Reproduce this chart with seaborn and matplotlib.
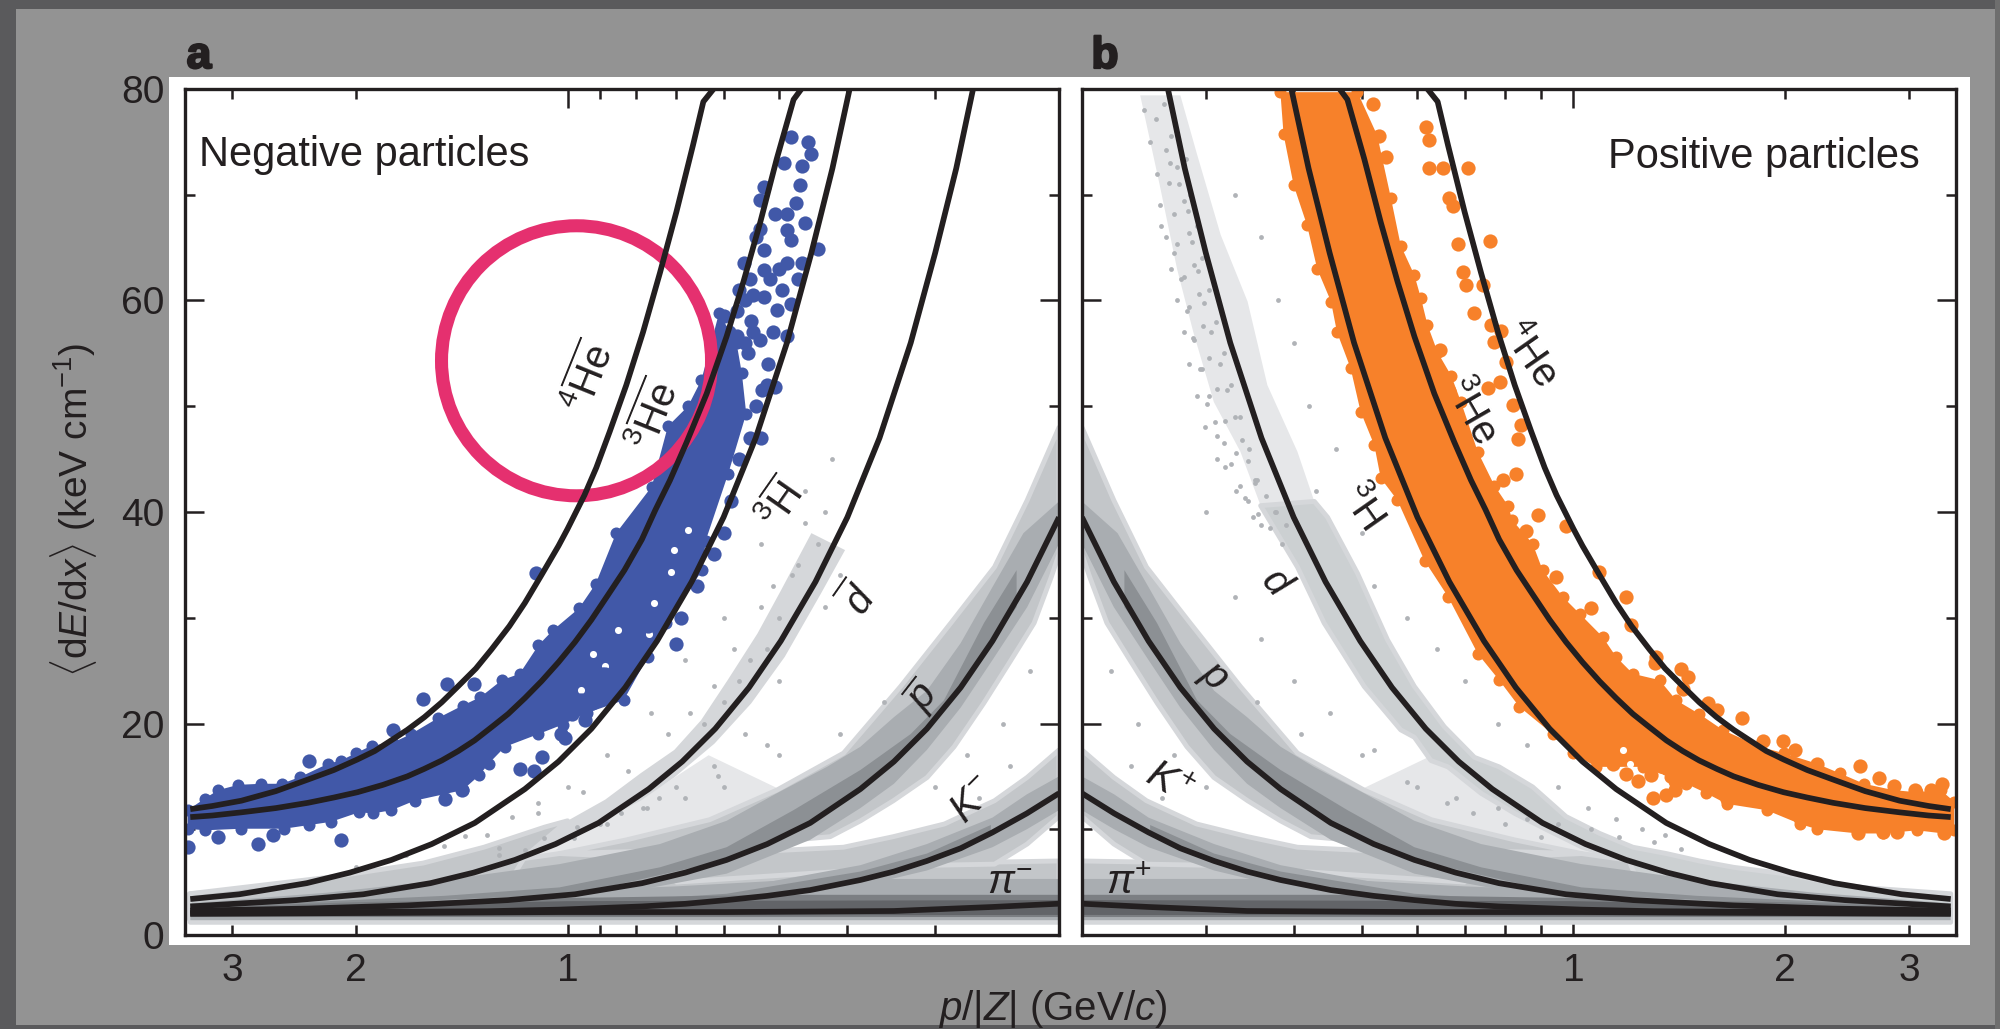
import matplotlib
matplotlib.use("Agg")
from matplotlib import pyplot as plt
from matplotlib import patheffects as pe
from matplotlib.patches import Rectangle
from matplotlib.ticker import FixedLocator, FixedFormatter
import pandas as pd
import seaborn as sns

# curves, p/|Z| (GeV/c) against <dE/dx> (keV/cm)
he4_p = [.62, .641, .663, .70, .739, .781, .825, .871, .91, .946, 1.0, 1.03, 1.09, 1.15, 1.21, 1.283, 1.35, 1.432, 1.51, 1.598, 1.69, 1.782, 1.88, 1.99, 2.15, 2.34, 2.6, 2.91, 3.2, 3.44]
he4_y = [80, 78.8, 74.7, 68.4, 62.6, 57, 52, 47.6, 44.2, 41.6, 38.4, 36.8, 34, 31.4, 29.2, 27, 25.2, 23.5, 22, 20.6, 19.4, 18.4, 17.4, 16.6, 15.6, 14.7, 13.6, 12.7, 12.2, 11.9]
he3_p = [.465, .477, .504, .532, .562, .594, .634, .677, .715, .75, .784, .83, .875, .925, .976, 1.03, 1.089, 1.15, 1.215, 1.28, 1.356, 1.43, 1.51, 1.6, 1.69, 1.83, 1.99, 2.15, 2.34, 2.6, 2.91, 3.2, 3.44]
he3_y = [80, 79, 73.4, 67.4, 61.8, 56.6, 51.2, 46.6, 43, 40.2, 37.4, 34.5, 32.2, 29.8, 27.7, 25.8, 24, 22.4, 20.9, 19.7, 18.4, 17.4, 16.5, 15.7, 15, 14.2, 13.5, 13, 12.5, 12, 11.6, 11.3, 11.15]
h3_p = [.397, .42, .45, .4875, .54, .6, .666, .746, .828, .925, 1.03, 1.15, 1.355, 1.56, 1.78, 2.04, 2.35, 2.93, 3.44]
h3_y = [80, 72.5, 64.5, 56, 47, 39.5, 33.4, 27.8, 23.4, 19.5, 16.4, 13.8, 10.6, 8.6, 7.1, 5.9, 4.9, 3.85, 3.4]
d_p = [.265, .28, .30, .325, .36, .4, .444, .4974, .552, .6166, .6868, .7666, .9034, 1.04, 1.188, 1.36, 1.567, 1.952, 2.43, 3.44]
d_y = [80, 72.5, 64.5, 56, 47, 39.5, 33.4, 27.8, 23.4, 19.5, 16.4, 13.8, 10.6, 8.6, 7.1, 5.9, 4.9, 3.85, 3.3, 2.7]
pr_p = [.2, .222, .2487, .276, .3083, .3434, .3833, .4517, .52, .594, .68, .7835, .976, 1.215, 1.69, 2.34, 3.44]
pr_y = [39.5, 33.4, 27.8, 23.4, 19.5, 16.4, 13.8, 10.6, 8.6, 7.1, 5.9, 4.9, 3.85, 3.3, 2.8, 2.5, 2.3]
ka_p = [.2, .2222, .2487, .276, .3083, .3434, .3833, .4517, .52, .594, .68, .7835, 1.027, 1.3, 1.69, 3.44]
ka_y = [13.4, 11.5, 9.7, 8.2, 7, 6, 5.2, 4.25, 3.7, 3.3, 2.95, 2.7, 2.4, 2.25, 2.2, 2.1]
pi_p = [.2, .2487, .3434, .594, 1.027, 1.69, 3.44]
pi_y = [2.96, 2.65, 2.27, 2.17, 2.17, 2.1, 2.0]

# grey clouds, outlines
base_p = [.2, .3, .5, 1.027, 2, 3.44, 3.44, .2]
base_y = [7, 6.8, 6.8, 7.7, 5, 3.9, 1.2, 1.2]
band_pr_p = [.2, .222, .247, .285, .336, .405, .504, .628, .824, 1.027, .7, .423, .383, .344, .308, .282, .256, .234, .217, .205, .2]
band_pr_y = [48, 41.1, 34.8, 29.5, 23.5, 17.2, 13.7, 10.9, 9, 7.7, 8, 9.3, 10.8, 12.7, 14.9, 17.8, 21.9, 26, 29.5, 33.9, 36]
band_ka_p = [.2, .222, .247, .291, .344, .405, .5, .7, .7, .3, .247, .222, .2]
band_ka_y = [17.5, 14.9, 12.7, 10.5, 9.3, 8.3, 8, 8, 5, 6.6, 6.7, 8.6, 11.2]
mid_pr_p = [.2, .2247, .2487, .276, .3083, .3434, .3833, .4276, .504, .594, .739, 1.027, 1.5, 2.2, 3.44, 3.44, 1, .594, .4517, .3833, .3434, .3083, .276, .2487, .222, .2]
mid_pr_y = [41, 38, 32.9, 27.6, 23.1, 20.6, 17.8, 15.9, 13.4, 10.8, 8.6, 6.7, 5.2, 4, 3, 1.8, 3, 5.8, 9, 12, 14.3, 17.5, 21.5, 26, 31, 37]
dark_pr_p = [.2298, .2557, .2915, .3251, .3833, .4773, .594, .739, 1.027, 1.5, 3.44, 3.44, .976, .594, .4517, .3833, .3083, .276, .2487, .2298]
dark_pr_y = [34.5, 29.5, 22.2, 19, 15.6, 11.8, 8.3, 6.4, 4.5, 3.7, 2.6, 2.3, 3.85, 7.1, 10.6, 13.8, 19.5, 23.4, 27.8, 31]
mid_ka_p = [.2, .2222, .2487, .3083, .3833, .594, 1.027, 3.44, 3.44, 1.027, .594, .3833, .3083, .2487, .2222, .2]
mid_ka_y = [15, 13.3, 11.1, 8.6, 6.6, 4.3, 3.3, 2.6, 2, 2.2, 2.9, 4.6, 6.1, 8.3, 10, 11.8]
dark_ka_p = [.25, .3083, .3833, .594, 1.027, 1.027, .594, .3833, .3083, .25]
dark_ka_y = [10.4, 7.7, 6, 3.9, 2.9, 2.4, 3.3, 5.2, 7, 9.6]
mid_pi_p = [.2, .45, .7, 1, 2, 3.44, 3.44, .2]
mid_pi_y = [5.3, 5.3, 4.6, 4.2, 3.5, 2.8, 1.4, 1.4]
dark_pi_p = [.2, .5, 1, 2, 3.44, 3.44, .2]
dark_pi_y = [3.8, 3.8, 3.5, 3.1, 2.6, 1.7, 1.7]
deep_pi_p = [.2, 1, 3.44, 3.44, .2]
deep_pi_y = [3.3, 3.2, 2.5, 1.8, 1.9]
# speckled wedge between the deuteron and proton clouds
wedge_p = [.5, .63, .8, 1.05, 1.25, 1.05, .824, .63, .5]
wedge_y = [13.8, 17, 12.5, 9, 7.4, 7.7, 9, 10.9, 13.7]

# deuteron cloud differs between the panels
band_d_a_p = [.45, .497, .537, .592, .646, .705, .787, .884, 1, 1.15, 1, .787, .705, .618, .548, .491, .436, .403]
band_d_a_y = [38, 32.6, 28.5, 24.1, 20.3, 17.5, 15.3, 12.8, 10.8, 7.4, 9.2, 12.7, 14.9, 18.1, 21.9, 26.3, 32.3, 36.4]
band_d_a_low_p = [1, 1.078, 1.315, 1.605, 2.16, 3.45, 3.45, 1.3, 1.15]
band_d_a_low_y = [10.8, 10.2, 8.3, 6.8, 5.5, 3.9, 1.5, 1.5, 7.4]
band_d_top_p = [.242, .258, .273, .288, .308, .336, .359, .428, .405, .367, .344, .315, .291, .276]
band_d_top_y = [79.4, 70.9, 63, 57, 50.4, 45.7, 40.6, 41, 45.7, 52, 59.9, 66.2, 74, 79.4]
band_d_b_p = [.359, .405, .442, .504, .568, .594, .627, .663, .739, .825, .92, 1.03, 1.2, 1.3, 3.44, 3.44, 2.76, 2.34, 1.99, 1.69, 1.51, 1.356, 1.215, 1.09, .976, .875, .784, .723, .655, .594, .544, .493, .447, .428]
band_d_b_y = [40.6, 34.8, 29.5, 23.5, 19.4, 18.7, 16.5, 15.9, 13.4, 11.5, 9.9, 8.3, 7, 1.5, 1.5, 3.6, 4.2, 4.9, 5.8, 6.4, 7, 7.7, 8.3, 9.6, 11.2, 14, 15.9, 16.8, 19.7, 23.5, 27.9, 34.2, 39.5, 41]

# single grey points standing out of the clouds
speck_b_p = [.245, .255, .262, .272, .25, .263, .268, .281, .256, .266, .273, .285, .258, .27, .279, .291, .263, .273, .284, .296, .268, .279, .289, .303, .273, .284, .293, .31, .279, .289, .297, .318, .284, .294, .303, .326, .291, .301, .311, .336, .299, .311, .319, .346, .311, .319, .331, .353, .331, .341, .352, .376, .35, .36, .385,
             .33, .36, .38, .40, .42, .43, .46, .5, .52, .58, .64, .7, .78, .86, .95, 1.05, 1.15, 1.25, 1.35, .3, .33, .36, .4, .45, .52, .58, .66, .72, .8, .9, .22, .24, .27, .3, .235, .26, .32, .355, .41, .5, .6, .68, .78, .86, .95, 1.06, 1.16, 1.3, 1.42,
             .267, .275, .259, .283, .27, .287, .277, .292, .282, .298, .288, .305, .296, .314, .303, .322, .309, .33, .318, .338, .326, .345, .336, .355, .345, .365, .356, .378, .37, .39]
speck_b_y = [78, 77.2, 78.6, 76, 75, 74.2, 75.6, 73.4, 72, 71.1, 72.6, 70, 69, 68.2, 69.4, 67, 66, 65.3, 66.4, 64, 63, 62.2, 63.4, 61, 60, 59.4, 60.6, 58, 57, 56.3, 57.6, 55, 54, 53.5, 54.6, 52, 51, 50.2, 51.6, 49, 48, 47.2, 48.6, 46, 45, 44.3, 45.6, 43, 42, 41.3, 42.7, 40, 39.5, 38.8, 37,
             70, 66, 60, 56, 50, 42, 46, 38, 33, 30, 27, 24, 20, 18, 14, 12, 11, 10, 9.5, 40, 32, 28, 24, 21, 17.5, 14.5, 12.5, 11.5, 10.5, 9.3, 25, 20, 17, 14, 16, 13, 19, 22, 19, 17, 14, 13, 12, 11, 10.5, 10, 9.3, 8.8, 8.1,
             73, 71, 67, 68.5, 64.5, 65.5, 62, 62.8, 59, 59.8, 56.5, 57, 53.5, 54, 51, 51.5, 48.5, 49, 46.5, 46.8, 44.5, 44.8, 42.5, 43, 41, 41.5, 39.8, 40, 38.5, 38.8]
speck_a_p = [.47, .5, .52, .55, .57, .6, .64, .43, .44, .46, .48, .51, .53, .58, .62, .67, .72, .82, .95, 1.1, 1.3, 1.5, .41, .43, .5, .56, .62, .7, .77, .88, .98, 1.15, 1.25, .22, .24, .27, .3, .235, .26, .32, .355, .41, .5, .6, .68, .78, .9,
             .42, .46, .53, .6, .68, .76, .88, 1.0, 1.1, 1.2, 1.4, 1.7, 2.0, .52, .61, .74, .84, .97, 1.08, 1.25]
speck_a_y = [35, 30, 27, 26, 24, 22, 20, 40, 37, 39, 34, 33, 31, 27, 23.5, 21, 19, 15.5, 13.5, 11.5, 9.5, 8.4, 34, 31, 24, 19, 16, 14, 12, 10.5, 9.2, 8, 7.6, 25, 20, 17, 14, 16, 13, 19, 22, 19, 17, 14, 13, 12, 10.5,
             45, 42, 37, 30, 26, 21, 17, 14, 12.5, 11.2, 9.4, 7.6, 6.4, 18, 15, 13, 11.5, 10.2, 9.2, 8.2]

# antiparticle candidates: dense body, then separate dots
blue_p = [3.47, 3.28, 3.14, 2.94, 2.73, 2.55, 2.4, 2.19, 2.1, 2.0, 1.9, 1.77, 1.67, 1.53, 1.41, 1.33, 1.24, 1.17, 1.10, 1.05, .963, .912, .853, .759, .72, .674, .645, .609,
          .575, .565, .557, .591, .636, .643, .724, .769, .832, .938, 1.016, 1.10, 1.227, 1.295, 1.335, 1.41, 1.65, 1.78, 1.89, 1.98, 2.17, 2.33, 2.53, 2.91, 3.28, 3.47]
blue_y = [11.8, 12.9, 13.7, 14.2, 14.3, 14.3, 14.95, 16.2, 16.5, 17.2, 17.9, 18.2, 19, 20.5, 21.7, 22.5, 24.1, 24.7, 27.4, 28.8, 30.9, 33.2, 38, 42.4, 48.1, 50, 52.5, 58.8,
          56, 53.1, 49.3, 43.6, 37.3, 34.5, 29.5, 26.3, 22.2, 21, 19.9, 19, 17.8, 16.2, 15.1, 13.7, 12.7, 11.8, 11.5, 11.6, 10.7, 10.4, 10.05, 10.05, 9.9, 10.05]
blue_dot_p = [1.11, 1.485, 1.606, 1.36, 1.77, 2.33, 3.14, 2.76, 2.62, 2.10, 1.496, 1.414, 1.17, 1.117, 1.087, 1.023, 1.007, .985, .958, .943, .922, .892, 3.47, .817, .884, .769,
              .481, .450, .492, .464, .467, .525, .533, .474, .507, .488, .460, .533, .488, .441, .481, .525, .562, .525, .488, .464, .570, .495, .525, .481, .600, .549, .503, .488, .574, .533, .553, .518, .507, .529, .591, .608, .59, .575, .56, .545,
              .455, .47, .50, .515, .54, .55, .545, .56, .51, .52, .54, .55, .53, .57, .585, .6, .62, .655, .69, .7]
blue_dot_y = [34.2, 23.7, 22.3, 23.7, 19.4, 16.5, 9.3, 8.6, 9.5, 9, 12.9, 13.7, 15.7, 15.5, 16.8, 19, 18.6, 20.9, 22.2, 20.3, 21.9, 24.7, 8.3, 25, 24.7, 29.2,
              75.5, 73.9, 73, 72.7, 70.9, 70.7, 69.5, 69.2, 68.2, 68.2, 67.3, 66.8, 66.7, 64.9, 65.7, 64.8, 63.5, 62.9, 63.5, 63.5, 61, 61, 60.3, 59.7, 58.5, 58.1, 59.1, 56.6, 56.6, 56.3, 55, 54, 51.8, 51.5, 53.1, 54.7, 57, 59, 60, 60.5,
              75, 62, 63, 62, 66, 62, 57, 56, 57, 52, 50, 47, 47, 45, 41, 38, 36, 33, 30, 27.5]
blue_hole_p = [.705, .675, .713, .753, .766, .849, .957, .884, .919]
blue_hole_y = [36.4, 38.3, 34.3, 31.4, 28.5, 28.8, 23.2, 25.4, 26.6]

orange_p = [.383, .493, .526, .55, .568, .594, .607, .62, .641, .67, .692, .731, .772, .807, .819, .875, .904, .965, 1.02, 1.10, 1.15, 1.215, 1.326, 1.40, 1.51, 1.63, 1.84, 1.99, 2.22, 2.39, 2.59, 2.85, 3.08, 3.33, 3.48,
            3.48, 3.36, 3.08, 2.76, 2.54, 2.22, 2.10, 1.883, 1.651, 1.546, 1.448, 1.37, 1.256, 1.077, .998, .934, .837, .784, .731, .663, .614, .562, .532, .521, .498, .482, .461, .452, .432, .418, .40, .387]
orange_y = [79.7, 79.7, 75.6, 69.7, 65.2, 62.4, 60.2, 57.7, 55.1, 52.9, 50.4, 45.7, 42.5, 40.6, 39.2, 37, 34.5, 32, 30.4, 28.2, 26.3, 24.7, 24.1, 22.2, 20.9, 19.4, 17.8, 17.2, 16.2, 15.3, 14.3, 13.7, 13.5, 13.7, 12.6,
            9.9, 9.6, 9.9, 9.6, 9.6, 10, 10.5, 11.8, 12.4, 13.4, 14.3, 14.9, 15.9, 15.9, 17.2, 19, 21.6, 24.1, 26.6, 32, 35.4, 41.1, 43.2, 46.3, 49.5, 53.6, 57, 59.9, 63, 67.1, 70.9, 75.7]
orange_dot_p = [.617, .624, .624, .652, .707, .518, .529, .541, .666, .673, .685, .762, .696, .704, .743, .723, .764, .789, .772, .645, .802, .755, .785, .666, .820, .843, .834, .829, .794,
                .889, .856, .976, .944, 1.089, 1.06, 1.189, 1.208, 1.312, 1.305, 1.424, 1.456, 1.432, 1.555, 1.598, 1.734, 1.862, 1.989, 2.066, 2.22, 2.558, 2.717, 2.854, 3.064, 3.347, 3.22,
                1.297, 1.356, 1.393, 1.235, 1.291, 1.189, 1.138, 1.393, 1.651, 2.10, 2.54, 2.76, 2.887, 3.36]
orange_dot_y = [76.4, 75.2, 72.5, 72.5, 72.5, 78.6, 75.6, 73.6, 69.7, 68.9, 65.3, 65.6, 62.7, 61.5, 61.5, 58.8, 57.7, 57.1, 56.1, 55.3, 54.2, 51.7, 52.3, 51.4, 50.1, 48.2, 46.9, 43.6, 43,
                39.7, 38.2, 38.7, 33.9, 34.3, 30.9, 32, 29.3, 26.3, 25.7, 25.2, 24.4, 23.3, 21.9, 21.3, 20.5, 18.3, 18.3, 17.5, 16.2, 16, 14.8, 14.1, 13.7, 14.3, 13.7,
                13, 13.2, 13.7, 14.6, 15.1, 15.2, 16.2, 14.6, 12.9, 11.1, 9.6, 9.7, 9.7, 9.6]
orange_hole_p = [1.176, 1.202, 1.326]
orange_hole_y = [17.5, 16.2, 14.9]

ring_p = [.971]
ring_y = [54.3]

y_major = [0, 20, 40, 60, 80]
y_minor = [10, 30, 50, 70]
x_major = [1]
x_minor = [.3, .4, .5, .6, .7, .8, .9, 2, 3]
x_minor_labels = ["", "", "", "", "", "", "", "2", "3"]

INK = "#231f20"
LIGHT = "#c3c6c9"
FAINT = "#e6e7e9"
SOFT = "#d5d7da"
SPECK = "#b0b3b7"
MID = "#a9adb1"
DARK = "#8c9094"
DEEP = "#626468"
BLUE = "#4158a8"
ORANGE = "#f7812a"
PINK = "#e5306f"

sns.set_theme(style="ticks")
plt.rcParams["font.family"] = ["Liberation Sans", "DejaVu Sans"]
plt.rcParams["mathtext.fontset"] = "custom"
plt.rcParams["mathtext.rm"] = "Liberation Sans"
plt.rcParams["mathtext.it"] = "Liberation Sans:italic"
plt.rcParams["mathtext.bf"] = "Liberation Sans:bold"
plt.rcParams["text.color"] = INK
plt.rcParams["axes.labelcolor"] = INK

W, H = 2000, 1029
fig = plt.figure(figsize=(W / 100, H / 100), dpi=100, facecolor="#939393")


def fpos(x, y):
    return x / W, 1 - y / H


def frect(x0, y0, x1, y1, color):
    fig.patches.append(Rectangle((x0 / W, 1 - y1 / H), (x1 - x0) / W, (y1 - y0) / H, transform=fig.transFigure, color=color, lw=0, zorder=-5))


# dark border of the slide and the white plate behind both panels
frect(0, 0, 2000, 9, "#5a5a5c")
frect(0, 0, 16, 1029, "#5a5a5c")
frect(0, 1025, 2000, 1029, "#5a5a5c")
frect(1995, 0, 2000, 1029, "#6e6e6e")
frect(169, 77, 1970, 945, "white")


def make_axes(x0, x1):
    ax = fig.add_axes([x0 / W, 1 - 935 / H, (x1 - x0) / W, 846 / H])
    ax.patch.set_alpha(0)
    return ax


def curve(ax, p, y):
    df = pd.DataFrame({"p": p, "y": y})
    sns.lineplot(data=df, x="p", y="y", ax=ax, color=INK, lw=4.1, estimator=None, sort=False, zorder=8,
                 solid_joinstyle="round", solid_capstyle="butt")


def dots(ax, p, y, color, size, z=5):
    df = pd.DataFrame({"p": p, "y": y})
    sns.scatterplot(data=df, x="p", y="y", ax=ax, color=color, s=size, linewidth=0, zorder=z, legend=False)


def soft_fill(ax, p, y, color, z=1):
    # a pale rim stands in for the speckled edge of the clouds
    ax.fill(p, y, facecolor=color, edgecolor=SOFT, lw=3.5, joinstyle="round", zorder=z)


def draw_panel(ax):
    ax.set_xscale("log")
    ax.fill(wedge_p, wedge_y, color=FAINT, lw=0, zorder=0.8)
    soft_fill(ax, base_p, base_y, LIGHT)
    soft_fill(ax, band_pr_p, band_pr_y, LIGHT)
    soft_fill(ax, band_ka_p, band_ka_y, LIGHT)
    ax.fill(mid_pi_p, mid_pi_y, color=MID, lw=0, zorder=2)
    ax.fill(mid_pr_p, mid_pr_y, color=MID, lw=0, zorder=2)
    ax.fill(mid_ka_p, mid_ka_y, color=MID, lw=0, zorder=2)
    ax.fill(dark_pr_p, dark_pr_y, color=DARK, lw=0, zorder=3)
    ax.fill(dark_ka_p, dark_ka_y, color=DARK, lw=0, zorder=3)
    ax.fill(dark_pi_p, dark_pi_y, color="#7c7f83", lw=0, zorder=3)
    ax.fill(deep_pi_p, deep_pi_y, color=DEEP, lw=0, zorder=3)
    for p, y in [(he4_p, he4_y), (he3_p, he3_y), (h3_p, h3_y), (d_p, d_y), (pr_p, pr_y), (ka_p, ka_y), (pi_p, pi_y)]:
        curve(ax, p, y)


def finish_axes(ax, xlim):
    ax.set_xlim(*xlim)
    ax.set_ylim(0, 80)
    ax.xaxis.set_major_locator(FixedLocator(x_major))
    ax.xaxis.set_major_formatter(FixedFormatter(["1"]))
    ax.xaxis.set_minor_locator(FixedLocator(x_minor))
    ax.xaxis.set_minor_formatter(FixedFormatter(x_minor_labels))
    ax.yaxis.set_major_locator(FixedLocator(y_major))
    ax.yaxis.set_minor_locator(FixedLocator(y_minor))
    ax.tick_params(which="major", direction="in", length=13.5, width=1.8, color=INK, top=True, right=True,
                   labelsize=28, labelcolor=INK, bottom=True, left=True)
    ax.tick_params(which="minor", direction="in", length=7, width=1.8, color=INK, top=True, right=True,
                   labelsize=28, labelcolor=INK, bottom=True, left=True)
    ax.tick_params(axis="x", which="both", pad=13)
    ax.tick_params(axis="y", which="both", pad=15)
    ax.set_xlabel("")
    ax.set_ylabel("")
    for s in ax.spines.values():
        s.set_linewidth(2.4)
        s.set_color(INK)
        s.set_zorder(12)


ax_a = make_axes(185, 1059)
ax_b = make_axes(1082, 1956)

# panel a
draw_panel(ax_a)
ax_a.fill(band_d_a_p, band_d_a_y, color=SOFT, lw=0, zorder=1)
soft_fill(ax_a, band_d_a_low_p, band_d_a_low_y, LIGHT)
dots(ax_a, speck_a_p, speck_a_y, SPECK, 12, z=1.5)
ax_a.fill(blue_p, blue_y, color=BLUE, lw=0, zorder=5)
dots(ax_a, blue_p, blue_y, BLUE, 75)
dots(ax_a, blue_hole_p, blue_hole_y, "white", 26, z=6)
dots(ax_a, blue_dot_p, blue_dot_y, BLUE, 105, z=6.5)
ax_a.scatter(ring_p, ring_y, s=37800, facecolors="none", edgecolors=PINK, linewidths=9.4, zorder=7)
finish_axes(ax_a, (3.5, .2))

# panel b
draw_panel(ax_b)
ax_b.fill(band_d_top_p, band_d_top_y, color=FAINT, lw=0, zorder=1)
soft_fill(ax_b, band_d_b_p, band_d_b_y, "#ccd0d2")
dots(ax_b, speck_b_p, speck_b_y, SPECK, 12, z=1.5)
ax_b.fill(orange_p, orange_y, color=ORANGE, lw=0, zorder=5)
dots(ax_b, orange_p, orange_y, ORANGE, 75)
dots(ax_b, orange_hole_p, orange_hole_y, "white", 26, z=6)
dots(ax_b, orange_dot_p, orange_dot_y, ORANGE, 105, z=6.5)
finish_axes(ax_b, (.2, 3.5))
ax_b.tick_params(axis="y", which="both", labelleft=False)

# text sits in figure pixels, rotated along the curves
fig.text(*fpos(199, 166), "Negative particles", fontsize=30, va="baseline", ha="left")
fig.text(*fpos(1920, 168), "Positive particles", fontsize=30, va="baseline", ha="right")
labels = [
    (590, 378, r"$^{4}\overline{\mathrm{He}}$", 68),
    (655, 416, r"$^{3}\overline{\mathrm{He}}$", 68),
    (782, 505, r"$^{3}\overline{\mathrm{H}}$", 55),
    (860, 600, r"$\overline{\mathit{d}}$", 55),
    (923, 697, r"$\overline{\mathit{p}}$", 52),
    (973, 800, r"$\mathit{K}^{-}$", 45),
    (1010, 883, r"$\pi^{-}$", 0),
    (1530, 354, r"$^{4}\mathrm{He}$", -55),
    (1471, 411, r"$^{3}\mathrm{He}$", -60),
    (1362, 507, r"$^{3}\mathrm{H}$", -55),
    (1276, 583, r"$\mathit{d}$", -48),
    (1213, 677, r"$\mathit{p}$", -42),
    (1169, 783, r"$\mathit{K}^{+}$", -30),
    (1129, 883, r"$\pi^{+}$", 0),
]
for x, y, s, rot in labels:
    fig.text(*fpos(x, y), s, fontsize=29, rotation=rot, ha="center", va="center", rotation_mode="anchor", zorder=20)

for x, s in [(199, "a"), (1105, "b")]:
    t = fig.text(*fpos(x, 68), s, fontsize=32, weight="bold", ha="center", va="baseline")
    t.set_path_effects([pe.withStroke(linewidth=1.6, foreground=INK)])

fig.text(*fpos(1053, 1009), r"$\mathit{p}$/|$\mathit{Z}$| (GeV/$\mathit{c}$)", fontsize=29, ha="center", va="center")
fig.text(*fpos(74, 510), r"$\langle$d$\mathit{E}$/d$\mathit{x}\rangle$ (keV cm$^{-1}$)", fontsize=28, rotation=90, ha="center", va="center")

plt.savefig("out.png", dpi=100, facecolor=fig.get_facecolor())
